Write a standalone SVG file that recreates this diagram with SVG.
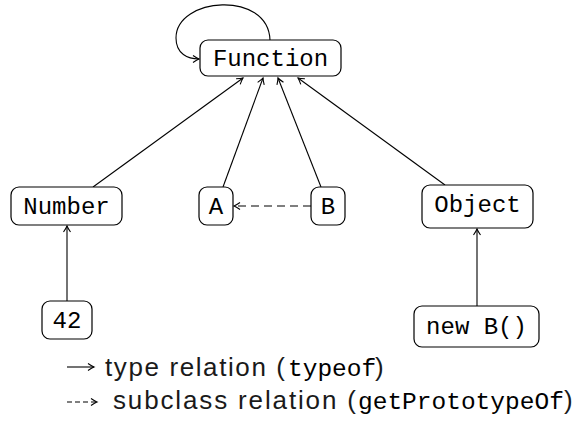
<svg xmlns="http://www.w3.org/2000/svg" width="580" height="421" viewBox="0 0 580 421">
<style>
.box{fill:#fff;stroke:#000;stroke-width:1.2}
.tt{font-family:"Liberation Mono","DejaVu Sans Mono",monospace;font-size:24px;fill:#000}
.lg{font-family:"Liberation Sans","Arial",sans-serif;font-size:26px;fill:#1a1a1a}
.lgt{font-family:"Liberation Mono","DejaVu Sans Mono",monospace;font-size:24.5px;fill:#000}
.edge{fill:none;stroke:#000;stroke-width:1.1;marker-end:url(#ah)}
</style>
<defs>
<marker id="ah" viewBox="-8 -5 10 10" refX="0" refY="0" markerWidth="10" markerHeight="10" markerUnits="userSpaceOnUse" orient="auto">
<path d="M-6,-3.5 Q-2,-0.8 0,0 Q-2,0.8 -6,3.5" fill="none" stroke="#000" stroke-width="1.1"/>
</marker>
</defs>
<rect width="580" height="421" fill="#fff"/>
<g id="connectors">
<path class="edge" d="M270,40 C268,-10 176,-3 176,38 C176,54 188,59 199,59"/>
<line class="edge" x1="93" y1="187" x2="243" y2="78"/>
<line class="edge" x1="223" y1="187" x2="263" y2="78"/>
<line class="edge" x1="321" y1="187" x2="278" y2="78"/>
<line class="edge" x1="445" y1="185" x2="298" y2="78"/>
<line class="edge" x1="67" y1="301" x2="67" y2="226"/>
<line class="edge" x1="477" y1="306" x2="477" y2="229"/>
<line class="edge" x1="311" y1="206" x2="234" y2="206" stroke-dasharray="8,5"/>
</g>
<g id="Function"><rect class="box" x="200" y="40" width="141" height="36" rx="8"/><text class="tt" x="270.5" y="66" text-anchor="middle">Function</text></g>
<g id="Number"><rect class="box" x="11" y="187" width="111" height="38" rx="8"/><text class="tt" x="66.5" y="214" text-anchor="middle">Number</text></g>
<g id="A"><rect class="box" x="199" y="187" width="34" height="38" rx="8"/><text class="tt" x="216" y="214" text-anchor="middle">A</text></g>
<g id="B"><rect class="box" x="311" y="187" width="34" height="38" rx="8"/><text class="tt" x="328" y="214" text-anchor="middle">B</text></g>
<g id="Object"><rect class="box" x="422" y="185" width="111" height="43" rx="8"/><text class="tt" x="477.5" y="212" text-anchor="middle">Object</text></g>
<g id="n42"><rect class="box" x="42" y="301" width="50" height="38" rx="8"/><text class="tt" x="67" y="328" text-anchor="middle">42</text></g>
<g id="newB"><rect class="box" x="414" y="306" width="125" height="41" rx="8"/><text class="tt" x="476.5" y="334" text-anchor="middle">new B()</text></g>
<g id="legend">
<line x1="67" y1="367" x2="94" y2="367" stroke="#000" stroke-width="1.1" marker-end="url(#ah)"/>
<text class="lg" x="105" y="376" textLength="180" lengthAdjust="spacing">type relation (</text>
<text class="lgt" x="288" y="376">typeof</text>
<text class="lg" x="375" y="376">)</text>
<line x1="67" y1="402" x2="97" y2="402" stroke="#000" stroke-width="1.1" stroke-dasharray="5,3" marker-end="url(#ah)"/>
<text class="lg" x="113" y="409" textLength="243" lengthAdjust="spacing">subclass relation (</text>
<text class="lgt" x="358" y="409">getPrototypeOf</text>
<text class="lg" x="564" y="409">)</text>
</g>
</svg>
